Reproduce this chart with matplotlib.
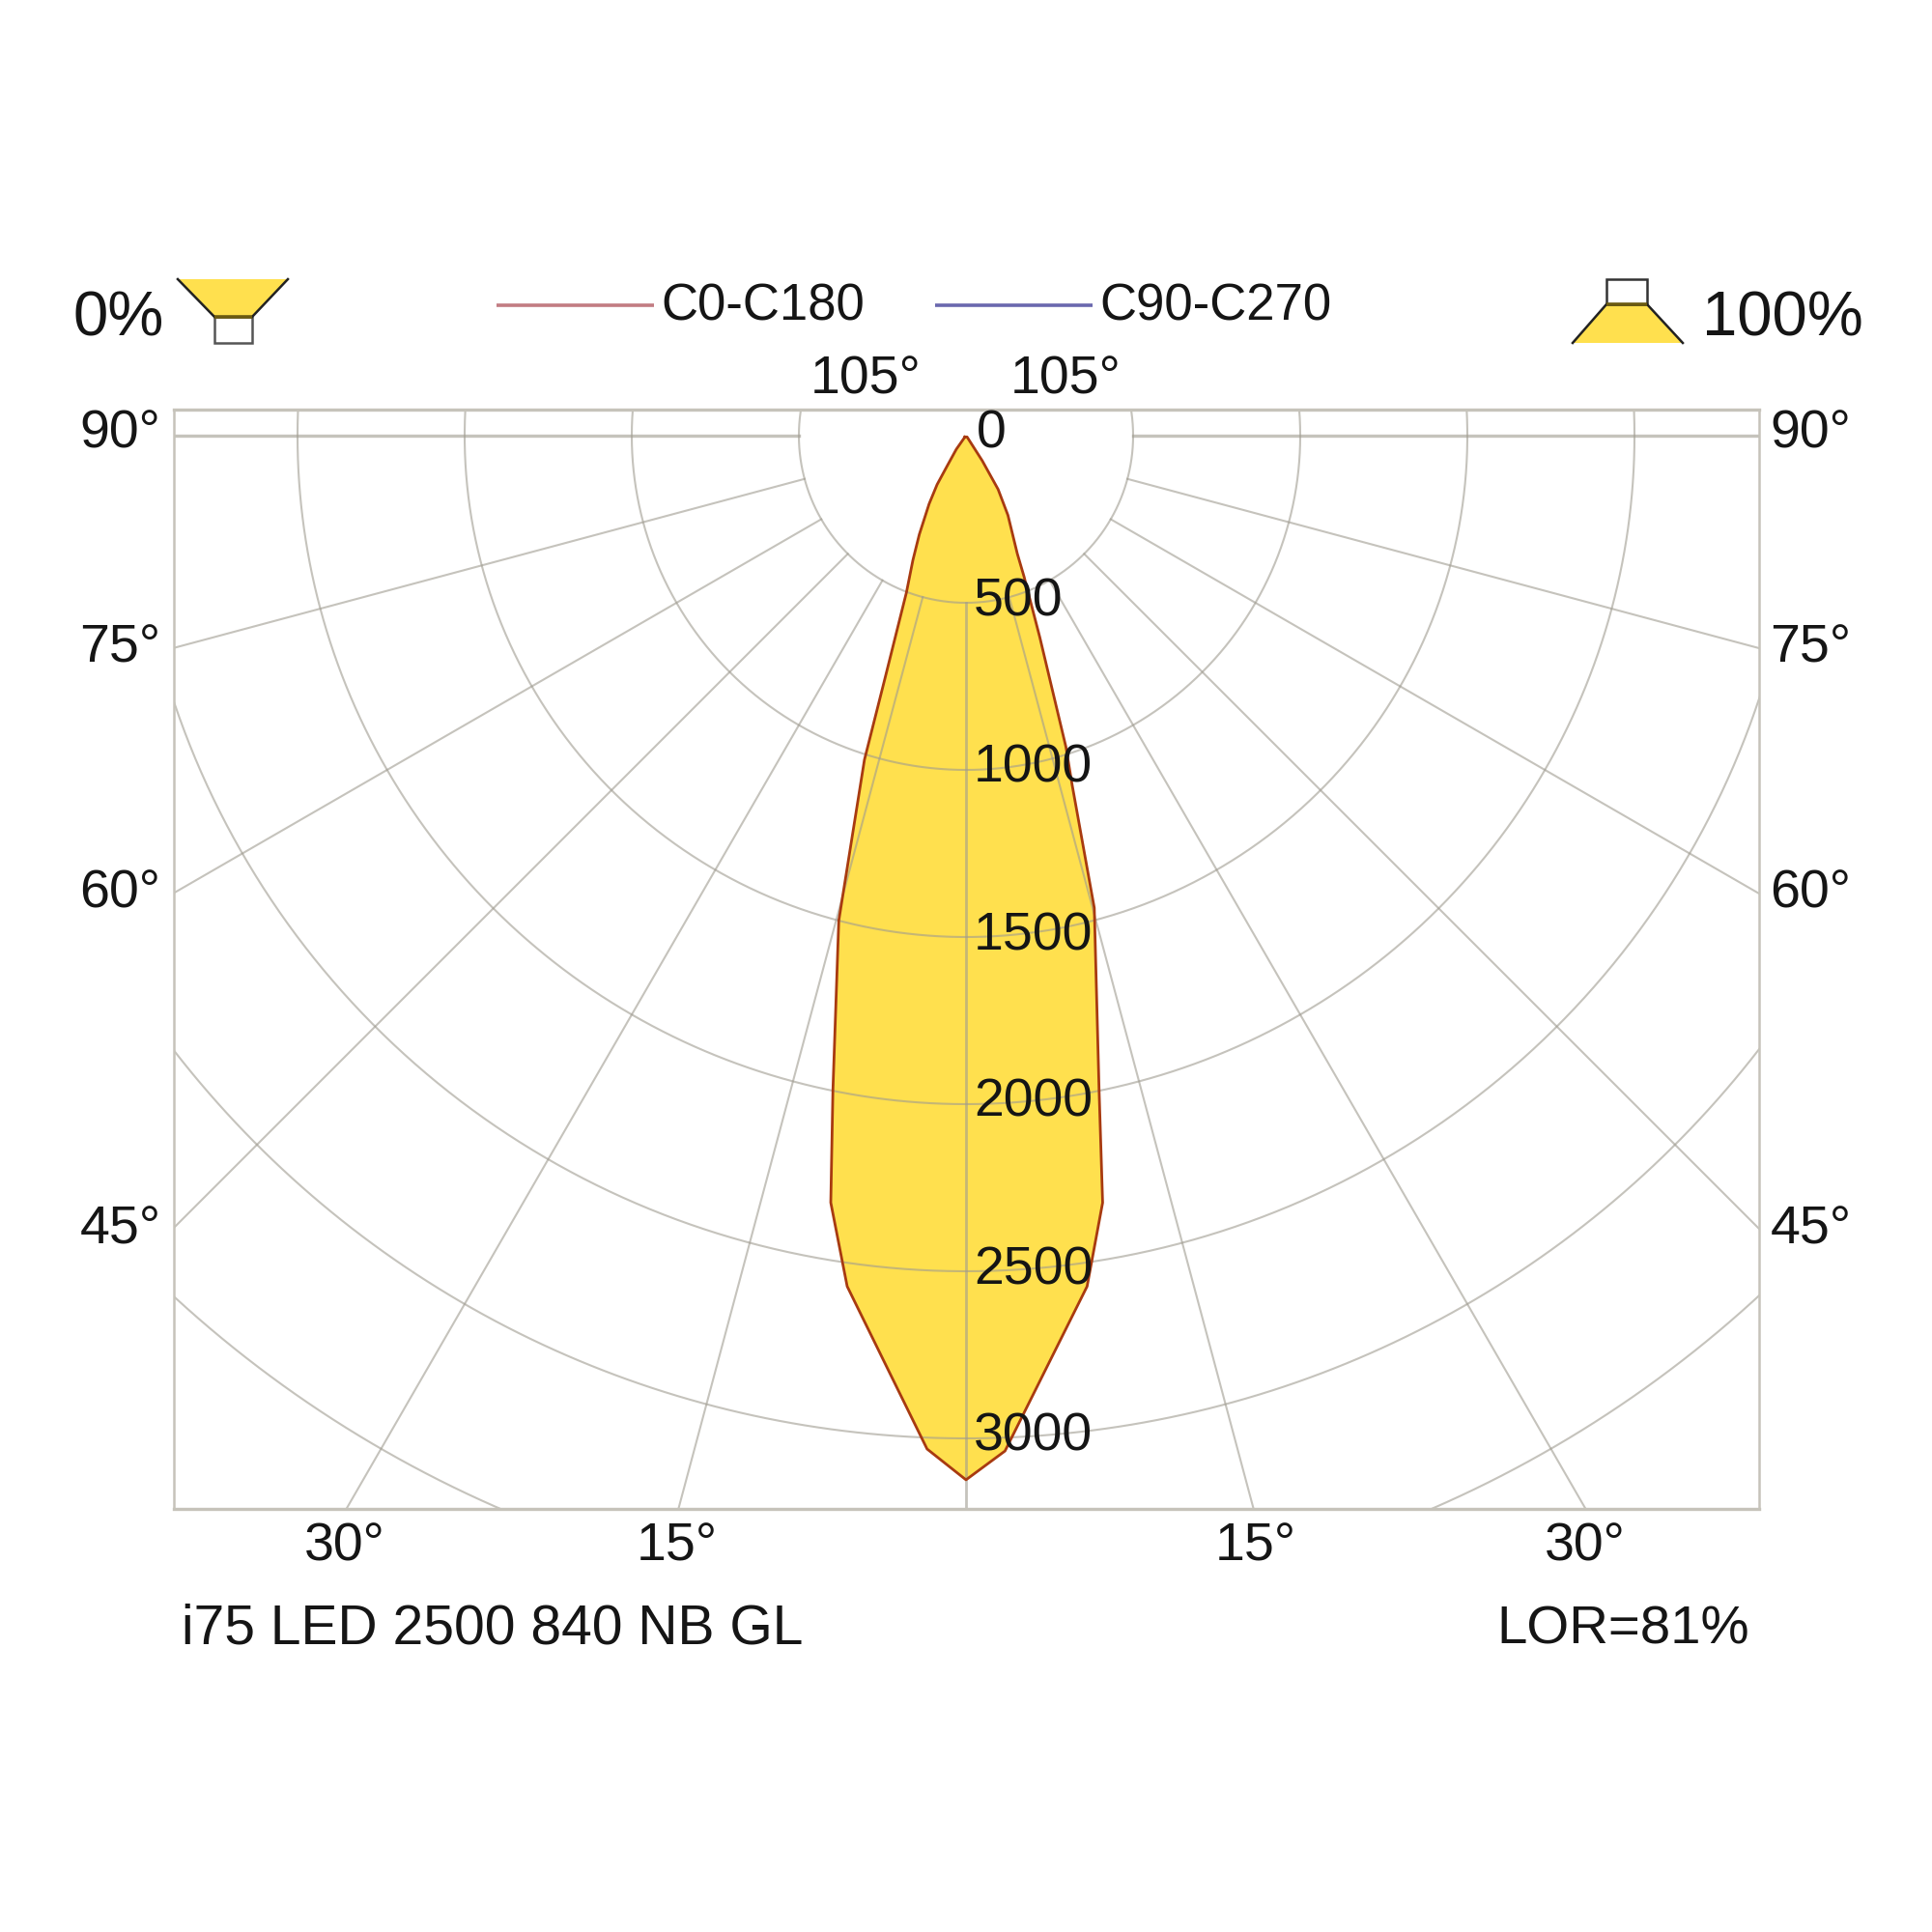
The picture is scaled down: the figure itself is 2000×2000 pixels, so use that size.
import numpy as np
import matplotlib
matplotlib.use("Agg")
import matplotlib.pyplot as plt
from matplotlib.patches import Polygon, Rectangle

plt.rcParams["font.family"] = ["Liberation Sans", "DejaVu Sans"]

# Luminous intensity, degrees from nadir
left_angles = [40, 35.5, 31.8, 30.6, 28.4, 25.3, 23.1, 20.8, 18.5, 17.4, 14.7, 11.5, 10, 7.95, 2.2, 0]
left_values = [5, 50, 110, 170, 232, 327, 405, 502, 759, 1016, 1500, 1997, 2330, 2570, 3034, 3124]
right_angles = [0, 2.2, 8.1, 10.1, 11.5, 15.2, 16.9, 17.8, 20.1, 22.4, 23.5, 27.8, 30.9, 33, 40]
right_values = [3124, 3040, 2571, 2331, 1997, 1464, 1093, 978, 643, 455, 385, 269, 187, 89, 5]

rings = [500, 1000, 1500, 2000, 2500, 3000, 3500]
ring_labels = [0, 500, 1000, 1500, 2000, 2500, 3000]
spokes = [15, 30, 45, 60, 75, 90]

FRAME = "#c6c3ba"
GRID = "#9f9b90"
FILL = "#ffe04e"
OUTLINE = "#a83a10"
TEXT = "#151515"

# pixels per cd, and where the origin sits in the 2000 px image
SCALE = 173 / 500
X0, Y0 = 1000, 451
LEFT, RIGHT, TOP, BOTTOM = 180, 1821, 424, 1562


def to_xy(angles, values, side):
    a = np.radians(angles)
    v = np.array(values, dtype=float)
    return side * v * np.sin(a), -v * np.cos(a)


fig = plt.figure(figsize=(10, 10), dpi=200)
ax = fig.add_axes([LEFT / 2000, 1 - BOTTOM / 2000, (RIGHT - LEFT) / 2000, (BOTTOM - TOP) / 2000])
ax.set_xlim((LEFT - X0) / SCALE, (RIGHT - X0) / SCALE)
ax.set_ylim((Y0 - BOTTOM) / SCALE, (Y0 - TOP) / SCALE)
ax.set_xticks([])
ax.set_yticks([])
for name, spine in ax.spines.items():
    spine.set_color(FRAME)
    spine.set_linewidth(1.2 if name in ("top", "bottom") else 0.9)

# Photometric body
lx, ly = to_xy(left_angles, left_values, -1)
rx, ry = to_xy(right_angles, right_values, 1)
xs = np.concatenate([lx, rx[1:]])
ys = np.concatenate([ly, ry[1:]])
ax.fill(xs, ys, color=FILL, zorder=1, linewidth=0)

# Grid
t = np.linspace(0, 2 * np.pi, 1441)
for r in rings:
    ax.plot(r * np.sin(t), r * np.cos(t), color=GRID, alpha=0.6, lw=0.75, zorder=2)
r_in, r_out = rings[0], 6000
ax.plot([0, 0], [-r_in, -r_out], color=GRID, alpha=0.6, lw=1.0, zorder=2)
for s in spokes:
    a = np.radians(s)
    for side in (-1, 1):
        ax.plot([side * r_in * np.sin(a), side * r_out * np.sin(a)],
                [-r_in * np.cos(a), -r_out * np.cos(a)],
                color=GRID, alpha=0.6, lw=1.2 if s == 90 else 0.75, zorder=2)

ax.plot(np.append(xs, xs[0]), np.append(ys, ys[0]), color=OUTLINE, lw=1.0, zorder=3)

# Overlay in image pixels for the texts and the legend
ov = fig.add_axes([0, 0, 1, 1])
ov.set_xlim(0, 2000)
ov.set_ylim(2000, 0)
ov.axis("off")
ov.patch.set_alpha(0)


def label(x, y, s, size=20, ha="left", va="baseline"):
    ov.text(x, y, s, fontsize=size, ha=ha, va=va, color=TEXT, zorder=6)


for v in ring_labels:
    label(1008 if v else 1011, Y0 + v * SCALE + 13, str(v))

label(124.5, 464, "90°", ha="center")
label(1874.5, 464, "90°", ha="center")
for text, y in [("75°", 685), ("60°", 939), ("45°", 1288)]:
    label(124.5, y, text, ha="center")
    label(1874.5, y, text, ha="center")
label(896, 408, "105°", ha="center")
label(1103, 408, "105°", ha="center")
for text, x in [("30°", 357), ("15°", 701), ("15°", 1300), ("30°", 1641)]:
    label(x, 1615, text, ha="center")

label(188, 1702, "i75 LED 2500 840 NB GL", size=20.5)
label(1811, 1702, "LOR=81%", size=20.3, ha="right")

# Legend
ov.plot([514, 677], [316, 316], color="#c27c82", lw=1.3, solid_capstyle="butt")
ov.plot([968, 1131], [316, 316], color="#6a68ae", lw=1.3, solid_capstyle="butt")
label(684, 332, "C0-C180", size=19)
label(1138, 332, "C90-C270", size=19)
label(76, 348, "0%", size=23.5)
label(1762, 348, "100%", size=23.5)

# Luminaire icons
ov.add_patch(Polygon([(184, 289), (298, 289), (261, 328), (222, 328)], closed=True, fc=FILL, ec="none"))
ov.plot([184, 222], [289, 328], color="#222222", lw=0.9)
ov.plot([298, 261], [289, 328], color="#222222", lw=0.9)
ov.add_patch(Rectangle((222, 328), 39, 27, fc="white", ec="#555555", lw=0.9))
ov.plot([222, 261], [328, 328], color="#6b5a10", lw=1.3, solid_capstyle="butt")
ov.add_patch(Polygon([(1663, 315), (1705, 315), (1742, 355), (1628, 355)], closed=True, fc=FILL, ec="none"))
ov.plot([1628, 1663], [355, 315], color="#222222", lw=0.9)
ov.plot([1742, 1705], [355, 315], color="#222222", lw=0.9)
ov.add_patch(Rectangle((1663, 289), 42, 26, fc="white", ec="#333333", lw=0.9))
ov.plot([1663, 1705], [315, 315], color="#6b5a10", lw=1.3, solid_capstyle="butt")

fig.savefig("out.png", dpi=200, facecolor="white")
